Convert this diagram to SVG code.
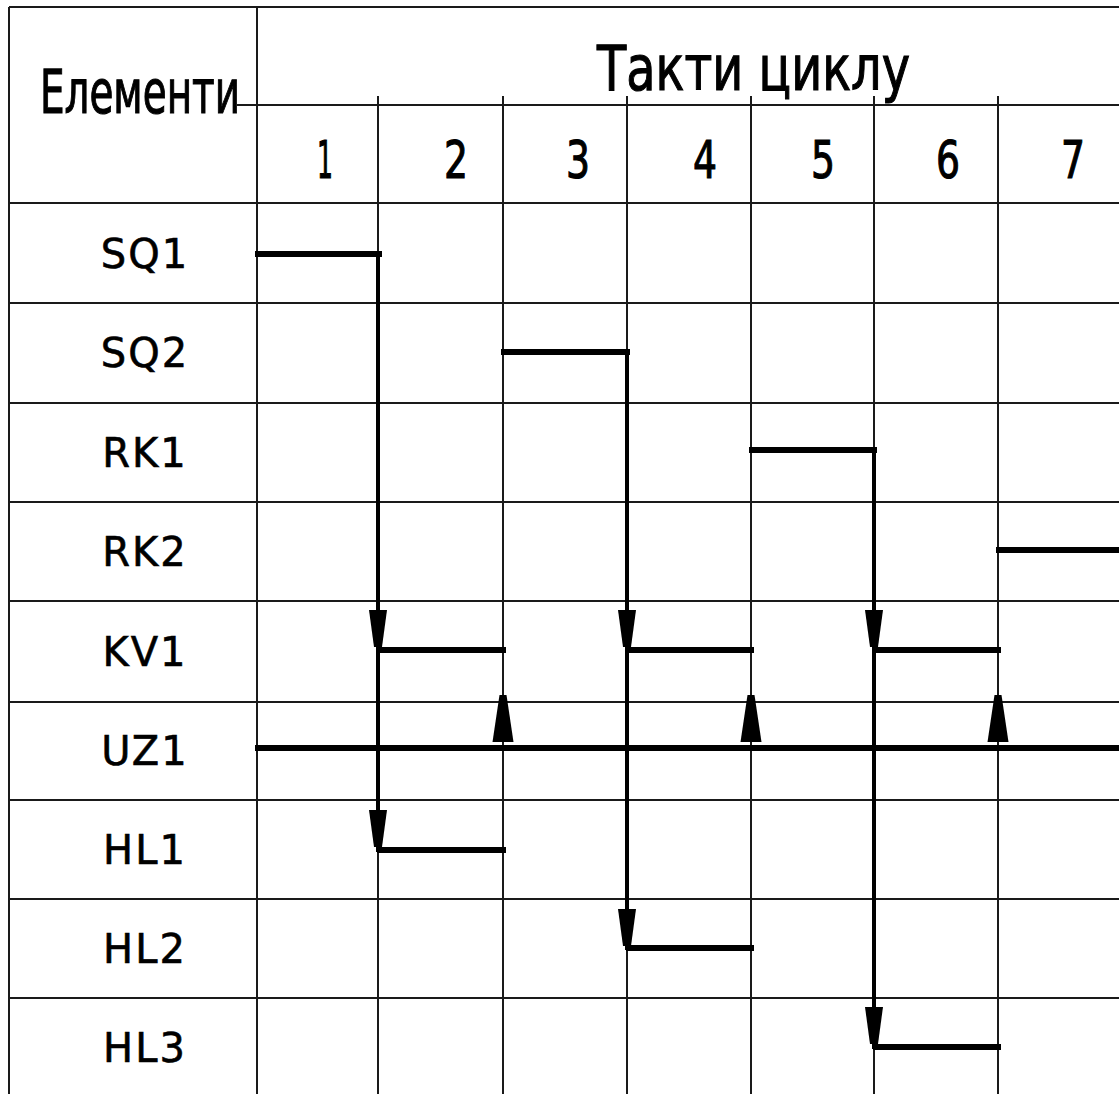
<svg xmlns="http://www.w3.org/2000/svg" width="1119" height="1094" viewBox="0 0 1119 1094">
<style>
.g{stroke:#1a1a1a;stroke-width:2;fill:none}
.b{stroke:#000;stroke-width:6;fill:none;stroke-linecap:square}
.v{stroke:#000;stroke-width:4;fill:none}
.ah{fill:#000}
.lb{font-family:"DejaVu Sans",sans-serif;font-size:40px;fill:#000;stroke:#000;stroke-width:0.6;text-anchor:middle;letter-spacing:2px}
.hd{font-family:"DejaVu Sans",sans-serif;fill:#000;stroke:#000;stroke-width:1.2}
.dg{font-family:"DejaVu Sans",sans-serif;font-size:52px;fill:#000;stroke:#000;stroke-width:1.2;text-anchor:middle}
</style>
<defs>
<polygon id="dn" class="ah" points="-9,0 9,0 4,37 -4,37"/>
<polygon id="up" class="ah" points="-3.5,0 3.5,0 10.5,47 -10.5,47"/>
</defs>
<rect width="1119" height="1094" fill="#fff"/>
<g id="grid">
<line class="g" x1="9" y1="7" x2="1119" y2="7"/>
<line class="g" x1="9" y1="7" x2="9" y2="1094"/>
<line class="g" x1="257" y1="7" x2="257" y2="1094"/>
<line class="g" x1="237" y1="105" x2="1119" y2="105"/>
<line class="g" x1="378" y1="96" x2="378" y2="1094"/>
<line class="g" x1="503" y1="96" x2="503" y2="1094"/>
<line class="g" x1="627" y1="96" x2="627" y2="1094"/>
<line class="g" x1="751" y1="96" x2="751" y2="1094"/>
<line class="g" x1="874" y1="96" x2="874" y2="1094"/>
<line class="g" x1="998" y1="96" x2="998" y2="1094"/>
<line class="g" x1="9" y1="203" x2="1119" y2="203"/>
<line class="g" x1="9" y1="303" x2="1119" y2="303"/>
<line class="g" x1="9" y1="403" x2="1119" y2="403"/>
<line class="g" x1="9" y1="502" x2="1119" y2="502"/>
<line class="g" x1="9" y1="601" x2="1119" y2="601"/>
<line class="g" x1="9" y1="702" x2="1119" y2="702"/>
<line class="g" x1="9" y1="800" x2="1119" y2="800"/>
<line class="g" x1="9" y1="899" x2="1119" y2="899"/>
<line class="g" x1="9" y1="998" x2="1119" y2="998"/>
</g>
<g id="header">
<text class="hd" x="40" y="113" font-size="60" textLength="200" lengthAdjust="spacingAndGlyphs">Елементи</text>
<text class="hd" x="597" y="90" font-size="62" textLength="313" lengthAdjust="spacingAndGlyphs">Такти циклу</text>
<text class="dg" x="325" y="178" textLength="16" lengthAdjust="spacingAndGlyphs">1</text>
<text class="dg" x="456" y="178" textLength="24" lengthAdjust="spacingAndGlyphs">2</text>
<text class="dg" x="578" y="178" textLength="24" lengthAdjust="spacingAndGlyphs">3</text>
<text class="dg" x="705" y="178" textLength="24" lengthAdjust="spacingAndGlyphs">4</text>
<text class="dg" x="823" y="178" textLength="24" lengthAdjust="spacingAndGlyphs">5</text>
<text class="dg" x="948" y="178" textLength="24" lengthAdjust="spacingAndGlyphs">6</text>
<text class="dg" x="1073" y="178" textLength="24" lengthAdjust="spacingAndGlyphs">7</text>
</g>
<g id="labels">
<text id="SQ1" class="lb" x="145" y="268">SQ1</text>
<text id="SQ2" class="lb" x="145" y="367">SQ2</text>
<text id="RK1" class="lb" x="145" y="467">RK1</text>
<text id="RK2" class="lb" x="145" y="566">RK2</text>
<text id="KV1" class="lb" x="145" y="666">KV1</text>
<text id="UZ1" class="lb" x="145" y="765">UZ1</text>
<text id="HL1" class="lb" x="145" y="864">HL1</text>
<text id="HL2" class="lb" x="145" y="963">HL2</text>
<text id="HL3" class="lb" x="145" y="1062">HL3</text>
</g>
<g id="bars">
<line class="b" x1="258" y1="254" x2="379" y2="254"/>
<line class="b" x1="504" y1="352" x2="627" y2="352"/>
<line class="b" x1="752" y1="450" x2="874" y2="450"/>
<line class="b" x1="999" y1="550" x2="1122" y2="550"/>
<line class="b" x1="380" y1="650" x2="503" y2="650"/>
<line class="b" x1="629" y1="650" x2="751" y2="650"/>
<line class="b" x1="876" y1="650" x2="998" y2="650"/>
<line class="b" x1="258" y1="748" x2="1122" y2="748"/>
<line class="b" x1="380" y1="850" x2="503" y2="850"/>
<line class="b" x1="629" y1="948" x2="751" y2="948"/>
<line class="b" x1="876" y1="1047" x2="998" y2="1047"/>
</g>
<g id="connectors">
<line class="v" x1="378" y1="254" x2="378" y2="852"/>
<line class="v" x1="627" y1="352" x2="627" y2="950"/>
<line class="v" x1="874" y1="450" x2="874" y2="1049"/>
<use href="#dn" x="378" y="610"/>
<use href="#dn" x="627" y="610"/>
<use href="#dn" x="874" y="610"/>
<use href="#dn" x="378" y="810"/>
<use href="#dn" x="627" y="909"/>
<use href="#dn" x="874" y="1007"/>
<use href="#up" x="503" y="695"/>
<use href="#up" x="751" y="695"/>
<use href="#up" x="998" y="695"/>
</g>
</svg>
